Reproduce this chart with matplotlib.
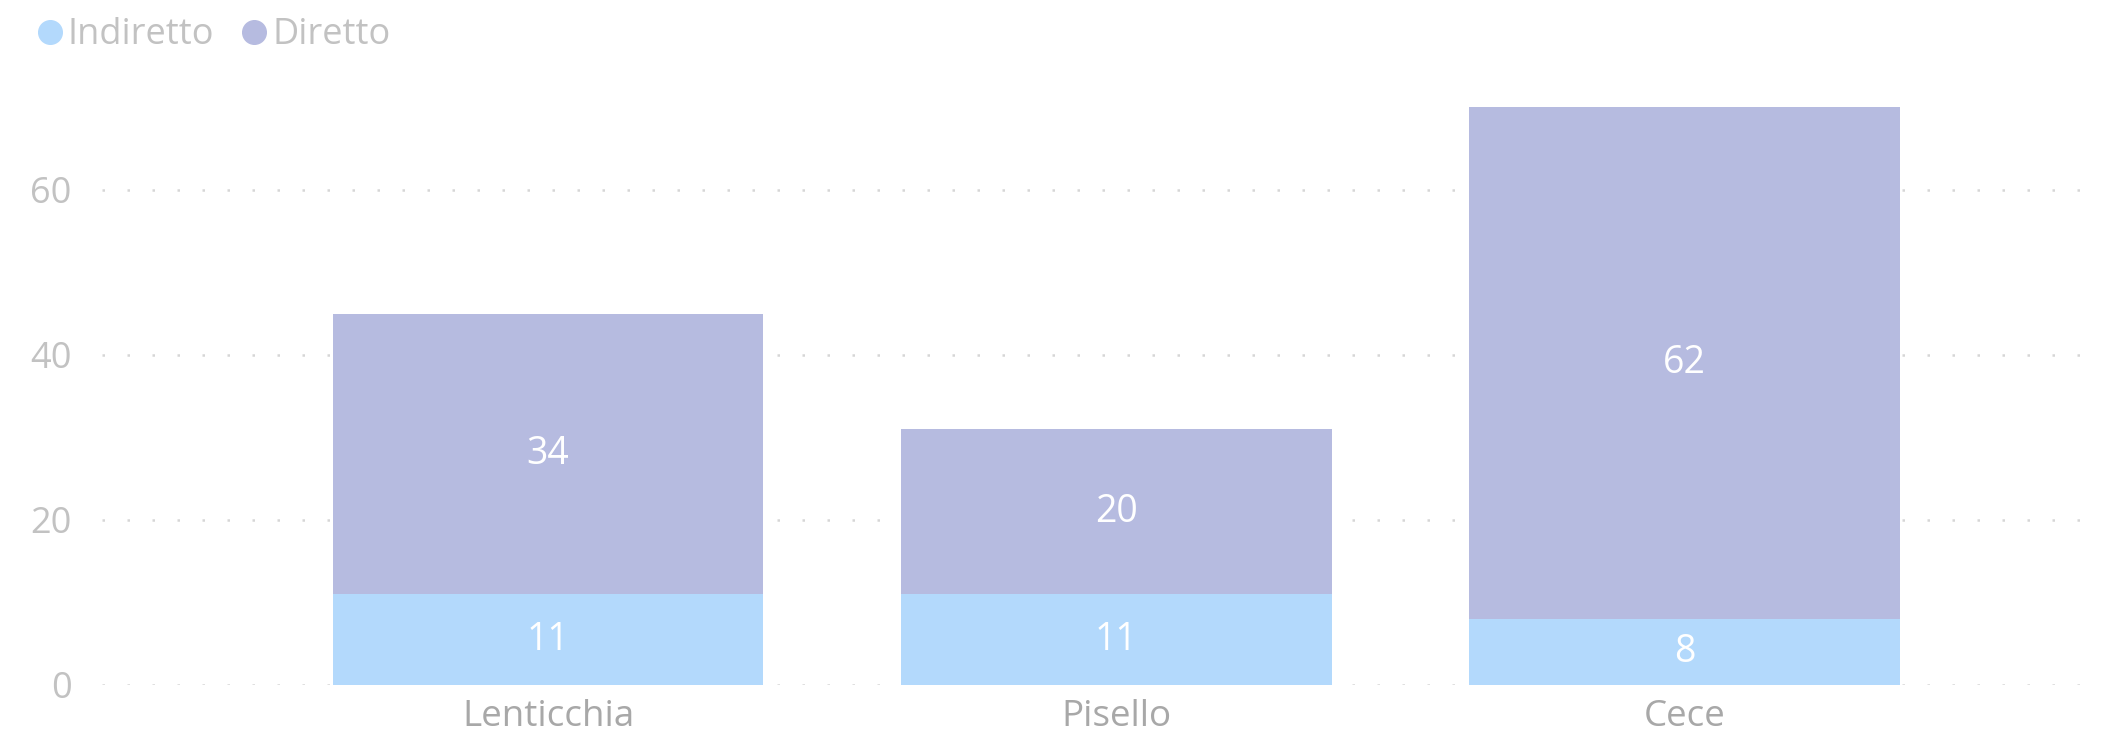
import matplotlib
matplotlib.use("Agg")
import matplotlib.pyplot as plt
from matplotlib.lines import Line2D
import numpy as np

plt.rcParams['font.family'] = ['Open Sans', 'DejaVu Sans']

# stacked bar data
categories = ["Lenticchia", "Pisello", "Cece"]
indiretto = [11, 11, 8]
diretto = [34, 20, 62]
y_ticks = [0, 20, 40, 60]

col_ind = "#b3d9fc"
col_dir = "#b6bbe0"
grid_col = "#d6d6d6"
text_col = "#c2c2c2"

fig = plt.figure(figsize=(21.26, 7.5), dpi=100)
ax = fig.add_axes([0.048, 0.0867, 0.9407, 0.770])

x = np.arange(len(categories))
width = 0.758
ax.bar(x, indiretto, width, color=col_ind, zorder=2)
ax.bar(x, diretto, width, bottom=indiretto, color=col_dir, zorder=2)

# values inside each segment
for i in range(len(categories)):
    ax.text(x[i], indiretto[i] / 2, str(indiretto[i]), ha="center", va="center",
            color="white", fontsize=27, zorder=3)
    ax.text(x[i], indiretto[i] + diretto[i] / 2, str(diretto[i]), ha="center", va="center",
            color="white", fontsize=27, zorder=3)

ax.set_xlim(-0.785, 2.735)
ax.set_ylim(0, 70)
ax.set_yticks(y_ticks)
ax.set_xticks(x)
ax.set_xticklabels(categories)
ax.tick_params(axis="y", length=0, labelsize=26, labelcolor=text_col, pad=22)
ax.tick_params(axis="x", length=0, labelsize=26.5, labelcolor="#a8a8a8", pad=10)

for s in ax.spines.values():
    s.set_visible(False)

ax.yaxis.grid(True, color=grid_col, linestyle=(0, (1, 9)), linewidth=1.8, zorder=1)
ax.set_axisbelow(True)

handles = [
    Line2D([], [], marker="o", linestyle="none", markersize=17, color=col_ind),
    Line2D([], [], marker="o", linestyle="none", markersize=17, color=col_dir),
]
fig.legend(handles, ["Indiretto", "Diretto"], loc="upper left", bbox_to_anchor=(-0.002, 1.02),
           ncol=2, frameon=False, handletextpad=-0.1, columnspacing=0.5,
           fontsize=26, labelcolor=text_col, handlelength=1.2)

fig.savefig("out.png", dpi=100, facecolor="white")
